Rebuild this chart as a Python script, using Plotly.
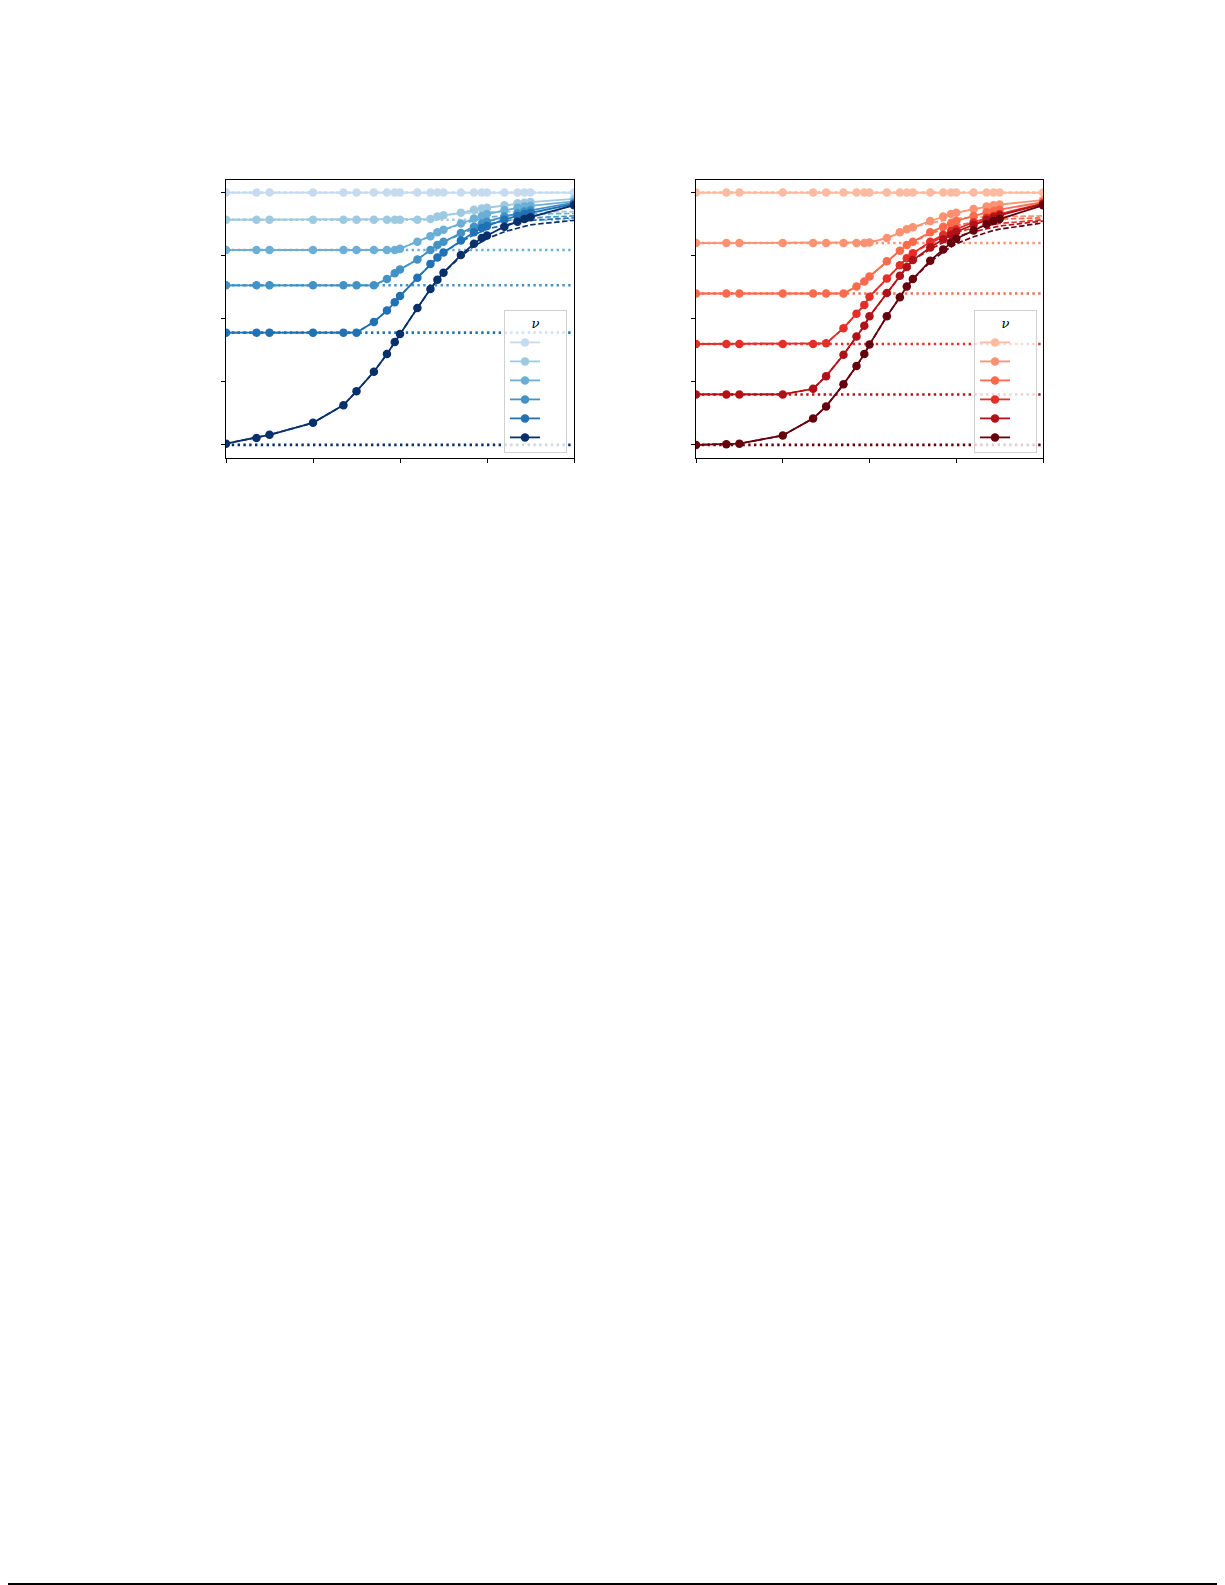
import plotly.graph_objects as go

# shared sample positions along the x axis
X_POINTS = [0, 0.35, 0.5, 1.0, 1.35, 1.5, 1.7, 1.85, 1.94, 2.0, 2.2, 2.35,
            2.43, 2.5, 2.7, 2.85, 2.94, 3.0, 3.2, 3.35, 3.43, 3.5, 4.0]
# the theory curves split off from the data from this x onwards
X_SPLIT = 2.7

X_TICKS = [0, 1, 2, 3, 4]
Y_TICKS = [0, 1, 2, 3, 4]

# left panel, lightest nu first
BLUE_LEVELS = [4.0, 3.57, 3.09, 2.53, 1.78, 0.0]
BLUE_1 = [4.0] * 23
BLUE_2 = [3.57, 3.57, 3.57, 3.57, 3.57, 3.57, 3.57, 3.57, 3.57, 3.57, 3.57, 3.58,
          3.62, 3.64, 3.68, 3.73, 3.75, 3.76, 3.80, 3.83, 3.84, 3.85, 3.90]
BLUE_3 = [3.09, 3.09, 3.09, 3.09, 3.09, 3.09, 3.09, 3.09, 3.09, 3.11, 3.22, 3.31,
          3.37, 3.41, 3.51, 3.59, 3.63, 3.66, 3.72, 3.76, 3.78, 3.79, 3.86]
BLUE_4 = [2.53, 2.53, 2.53, 2.53, 2.53, 2.53, 2.53, 2.63, 2.72, 2.78, 2.94, 3.09,
          3.17, 3.22, 3.36, 3.46, 3.51, 3.54, 3.62, 3.67, 3.70, 3.72, 3.84]
BLUE_5 = [1.78, 1.78, 1.78, 1.78, 1.78, 1.78, 1.95, 2.13, 2.26, 2.36, 2.65, 2.87,
          2.97, 3.05, 3.24, 3.37, 3.44, 3.47, 3.57, 3.63, 3.66, 3.68, 3.82]
BLUE_6 = [0.02, 0.11, 0.16, 0.35, 0.63, 0.85, 1.16, 1.44, 1.63, 1.76, 2.17, 2.47,
          2.62, 2.73, 3.01, 3.19, 3.28, 3.32, 3.46, 3.54, 3.58, 3.61, 3.80]
# theory tails (x >= X_SPLIT)
BLUE_THEORY_1 = [4.0] * 9
BLUE_THEORY_2 = [3.67, 3.68, 3.69, 3.69, 3.70, 3.70, 3.70, 3.70, 3.70]
BLUE_THEORY_3 = [3.50, 3.56, 3.59, 3.61, 3.63, 3.65, 3.66, 3.66, 3.67]
BLUE_THEORY_4 = [3.34, 3.43, 3.47, 3.50, 3.55, 3.58, 3.59, 3.60, 3.63]
BLUE_THEORY_5 = [3.22, 3.33, 3.39, 3.42, 3.49, 3.53, 3.55, 3.56, 3.60]
BLUE_THEORY_6 = [2.99, 3.15, 3.23, 3.27, 3.38, 3.44, 3.47, 3.49, 3.56]

# right panel, lightest nu first
RED_LEVELS = [4.0, 3.2, 2.4, 1.6, 0.8, 0.0]
RED_1 = [4.0] * 23
RED_2 = [3.2, 3.2, 3.2, 3.2, 3.2, 3.2, 3.2, 3.2, 3.2, 3.21, 3.28, 3.37,
         3.42, 3.45, 3.55, 3.62, 3.66, 3.68, 3.74, 3.78, 3.80, 3.81, 3.88]
RED_3 = [2.4, 2.4, 2.4, 2.4, 2.4, 2.4, 2.4, 2.51, 2.59, 2.67, 2.91, 3.08,
         3.17, 3.22, 3.37, 3.46, 3.51, 3.55, 3.63, 3.69, 3.71, 3.73, 3.85]
RED_4 = [1.6, 1.6, 1.6, 1.6, 1.6, 1.61, 1.85, 2.08, 2.22, 2.35, 2.64, 2.85,
         2.96, 3.04, 3.22, 3.33, 3.39, 3.42, 3.53, 3.60, 3.63, 3.66, 3.83]
RED_5 = [0.8, 0.8, 0.8, 0.8, 0.89, 1.09, 1.43, 1.72, 1.89, 2.04, 2.41, 2.68,
         2.82, 2.93, 3.13, 3.26, 3.33, 3.38, 3.49, 3.57, 3.61, 3.64, 3.82]
RED_6 = [0.0, 0.01, 0.02, 0.15, 0.42, 0.61, 0.96, 1.25, 1.44, 1.59, 2.04, 2.34,
         2.51, 2.63, 2.92, 3.10, 3.20, 3.27, 3.40, 3.50, 3.55, 3.58, 3.80]
RED_THEORY_1 = [4.0] * 9
RED_THEORY_2 = [3.52, 3.56, 3.58, 3.59, 3.61, 3.62, 3.62, 3.62, 3.63]
RED_THEORY_3 = [3.35, 3.42, 3.46, 3.48, 3.53, 3.56, 3.57, 3.58, 3.60]
RED_THEORY_4 = [3.20, 3.30, 3.34, 3.37, 3.44, 3.48, 3.50, 3.51, 3.57]
RED_THEORY_5 = [3.10, 3.21, 3.27, 3.30, 3.38, 3.43, 3.45, 3.47, 3.55]
RED_THEORY_6 = [2.90, 3.06, 3.14, 3.19, 3.30, 3.37, 3.40, 3.42, 3.52]

BLUES = ['#c6dbef', '#9ecae1', '#6baed6', '#4292c6', '#2171b5', '#08306b']
REDS = ['#fcbba1', '#fc9272', '#fb6a4a', '#e32f27', '#b11218', '#67000d']

W, H = 1225, 1585
OFF = 8  # the page body adds an 8px margin around the plot div
PANELS = [
    dict(x=(226, 574), xaxis='x', yaxis='y', legend='legend', legend_right=567,
         colors=BLUES, levels=BLUE_LEVELS,
         data=[BLUE_1, BLUE_2, BLUE_3, BLUE_4, BLUE_5, BLUE_6],
         theory=[BLUE_THEORY_1, BLUE_THEORY_2, BLUE_THEORY_3,
                 BLUE_THEORY_4, BLUE_THEORY_5, BLUE_THEORY_6]),
    dict(x=(696, 1043), xaxis='x2', yaxis='y2', legend='legend2', legend_right=1037,
         colors=REDS, levels=RED_LEVELS,
         data=[RED_1, RED_2, RED_3, RED_4, RED_5, RED_6],
         theory=[RED_THEORY_1, RED_THEORY_2, RED_THEORY_3,
                 RED_THEORY_4, RED_THEORY_5, RED_THEORY_6]),
]
Y_TOP, Y_BOTTOM = 180, 457.5
BLANK = '\u00a0' * 4


def px_x(v):
    return (v - OFF) / W


def px_y(v):
    return 1 - (v - OFF) / H


fig = go.Figure()
split = X_POINTS.index(X_SPLIT)

for panel in PANELS:
    common = dict(xaxis=panel['xaxis'], yaxis=panel['yaxis'], hoverinfo='skip')
    # dotted asymptotes in the back
    for color, level in zip(panel['colors'], panel['levels']):
        fig.add_trace(go.Scatter(
            x=[X_TICKS[0], X_TICKS[-1]], y=[level, level], mode='lines',
            line=dict(color=color, width=2.6, dash='2.4px,3.4px'),
            showlegend=False, **common))
    for color, ys, tail in zip(panel['colors'], panel['data'], panel['theory']):
        fig.add_trace(go.Scatter(
            x=X_POINTS, y=ys[:split] + tail, mode='lines',
            line=dict(color=color, width=1.7, dash='5.5px,2.5px'),
            showlegend=False, **common))
        fig.add_trace(go.Scatter(
            x=X_POINTS, y=ys, mode='lines+markers', name=BLANK,
            line=dict(color=color, width=1.8),
            marker=dict(color=color, size=8.5),
            legend=panel['legend'], **common))

layout = dict(
    width=W, height=H,
    margin=dict(l=0, r=0, t=0, b=0),
    paper_bgcolor='white', plot_bgcolor='white',
    font=dict(family='DejaVu Sans', size=12, color='black'),
    shapes=[dict(type='line', xref='paper', yref='paper',
                 x0=0, x1=px_x(1224), y0=px_y(1584), y1=px_y(1584),
                 line=dict(color='black', width=2))],
)
for panel in PANELS:
    axis_style = dict(showline=True, linecolor='black', linewidth=1, mirror=True,
                      ticks='outside', ticklen=4, tickwidth=1, tickcolor='black',
                      showticklabels=False, showgrid=False, zeroline=False)
    xname = 'xaxis' if panel['xaxis'] == 'x' else 'xaxis2'
    yname = 'yaxis' if panel['yaxis'] == 'y' else 'yaxis2'
    layout[xname] = dict(domain=[px_x(panel['x'][0]), px_x(panel['x'][1])], range=[0, 4],
                         tickvals=X_TICKS, anchor=panel['yaxis'], **axis_style)
    layout[yname] = dict(domain=[px_y(Y_BOTTOM), px_y(Y_TOP)], range=[-0.2, 4.2],
                         tickvals=Y_TICKS, anchor=panel['xaxis'], **axis_style)
    layout[panel['legend']] = dict(
        x=px_x(panel['legend_right']), y=px_y(453), xanchor='right', yanchor='bottom',
        bgcolor='rgba(255,255,255,0.8)', bordercolor='#d0d0d0', borderwidth=1,
        title=dict(text='<i>ν</i>', side='top center',
                   font=dict(family='DejaVu Serif', size=13)),
        font=dict(size=12), itemwidth=30, tracegroupgap=0)

fig.update_layout(**layout)
fig.write_html("out.html")
